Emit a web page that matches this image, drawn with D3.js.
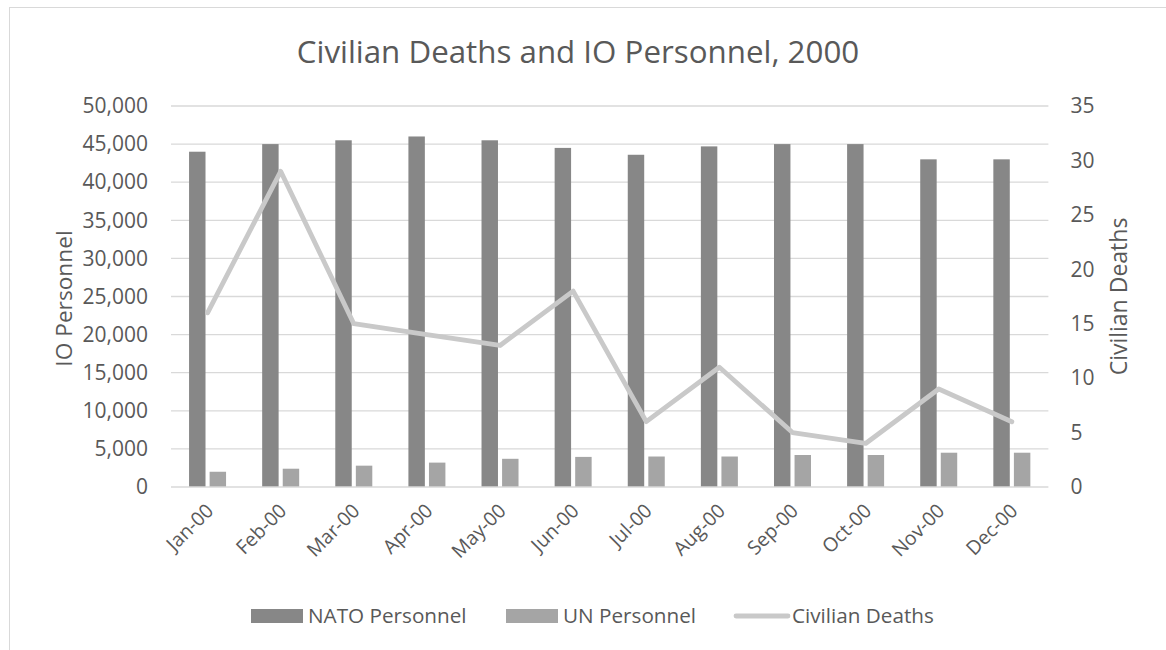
<!DOCTYPE html>
<html>
<head>
<meta charset="utf-8">
<script src="https://cdn.jsdelivr.net/npm/d3@7"></script>
<style>
  html, body { margin: 0; padding: 0; background: #fff; }
  svg { display: block; font-family: "Open Sans", Lato, sans-serif; }
</style>
</head>
<body>
<svg id="chart" width="1166" height="650"></svg>
<script>
const months = ["Jan-00","Feb-00","Mar-00","Apr-00","May-00","Jun-00","Jul-00","Aug-00","Sep-00","Oct-00","Nov-00","Dec-00"];
const natoPersonnel = [44000, 45000, 45500, 46000, 45500, 44500, 43600, 44700, 45000, 45000, 43000, 43000];
const unPersonnel = [2000, 2400, 2800, 3200, 3700, 3950, 4000, 4000, 4200, 4200, 4500, 4500];
const civilianDeaths = [16, 29, 15, 14, 13, 18, 6, 11, 5, 4, 9, 6];
const leftTicks = [0, 5000, 10000, 15000, 20000, 25000, 30000, 35000, 40000, 45000, 50000];
const rightTicks = [0, 5, 10, 15, 20, 25, 30, 35];
const seriesNames = ["NATO Personnel", "UN Personnel", "Civilian Deaths"];
const colors = { nato: "#878787", un: "#a5a5a5", deaths: "#c9c9c9" };
const textColor = "#595959";
const FONT = "'Open Sans', Lato, sans-serif";

const svg = d3.select("#chart");
const plot = { left: 171, right: 1048.4, top: 106, bottom: 487 };

// chart border
svg.append("rect").attr("x", 9.5).attr("y", 7.5).attr("width", 1166).attr("height", 660)
  .attr("fill", "none").attr("stroke", "#d9d9d9").attr("stroke-width", 1);

const x0 = d3.scaleBand().domain(months).range([plot.left, plot.right]).padding(0);
const x1 = d3.scaleBand().domain(["nato", "un"]).range([-18.5, 18.5]).paddingInner(0.2);
const yL = d3.scaleLinear().domain([0, 50000]).range([plot.bottom, plot.top]);
const yR = d3.scaleLinear().domain([0, 35]).range([plot.bottom, plot.top]);
const cx = m => x0(m) + x0.bandwidth() / 2;

// gridlines
svg.append("g").selectAll("line").data(leftTicks.filter(d => d > 0)).join("line")
  .attr("x1", plot.left).attr("x2", plot.right)
  .attr("y1", d => yL(d)).attr("y2", d => yL(d))
  .attr("stroke", "#d9d9d9").attr("stroke-width", 1.3);

// left axis labels
const fmt = d3.format(",");
const leftAxis = d3.axisLeft(yL).tickValues(leftTicks).tickFormat(fmt).tickSize(0).tickPadding(23);
const gl = svg.append("g").attr("transform", `translate(${plot.left},0)`).call(leftAxis);
gl.select(".domain").remove();
gl.selectAll("text").attr("fill", textColor).style("font-size", "21px").style("font-family", FONT);

const rightAxis = d3.axisRight(yR).tickValues(rightTicks).tickSize(0).tickPadding(22);
const gr = svg.append("g").attr("transform", `translate(${plot.right},0)`).call(rightAxis);
gr.select(".domain").remove();
gr.selectAll("text").attr("fill", textColor).style("font-size", "21px").style("font-family", FONT);

// bars
const groups = svg.append("g").selectAll("g").data(months).join("g")
  .attr("transform", d => `translate(${cx(d)},0)`);
groups.append("rect")
  .attr("x", x1("nato")).attr("width", x1.bandwidth())
  .attr("y", (d, i) => yL(natoPersonnel[i]))
  .attr("height", (d, i) => plot.bottom - yL(natoPersonnel[i]))
  .attr("fill", colors.nato);
groups.append("rect")
  .attr("x", x1("un")).attr("width", x1.bandwidth())
  .attr("y", (d, i) => yL(unPersonnel[i]))
  .attr("height", (d, i) => plot.bottom - yL(unPersonnel[i]))
  .attr("fill", colors.un);

// bottom axis line
svg.append("line").attr("x1", plot.left).attr("x2", plot.right)
  .attr("y1", plot.bottom).attr("y2", plot.bottom)
  .attr("stroke", "#d9d9d9").attr("stroke-width", 1.5);

// line series
const line = d3.line().x((d, i) => cx(months[i])).y(d => yR(d));
svg.append("path").datum(civilianDeaths).attr("d", line)
  .attr("fill", "none").attr("stroke", colors.deaths).attr("stroke-width", 4.8)
  .attr("stroke-linejoin", "round").attr("stroke-linecap", "round");

// x labels
const xAxis = d3.axisBottom(x0).tickSize(0).tickPadding(0);
const gx = svg.append("g").attr("transform", `translate(0,${plot.bottom})`).call(xAxis);
gx.select(".domain").remove();
gx.selectAll("text")
  .attr("fill", textColor).style("font-size", "19.5px").style("font-family", FONT)
  .attr("text-anchor", "end").attr("dy", null).attr("y", 0)
  .attr("transform", "translate(7,25) rotate(-45)");

// title
svg.append("text").attr("x", 578).attr("y", 63).attr("text-anchor", "middle")
  .attr("fill", textColor).style("font-size", "31.3px").text("Civilian Deaths and IO Personnel, 2000");

// axis titles
svg.append("text").attr("transform", `translate(72,${(plot.top + plot.bottom) / 2 + 2}) rotate(-90)`)
  .attr("text-anchor", "middle").attr("fill", textColor).style("font-size", "22.7px").text("IO Personnel");
svg.append("text").attr("transform", `translate(1127,${(plot.top + plot.bottom) / 2}) rotate(-90)`)
  .attr("text-anchor", "middle").attr("fill", textColor).style("font-size", "23px").text("Civilian Deaths");

// legend
const legendItems = [
  { name: seriesNames[0], type: "rect", color: colors.nato, x: 251 },
  { name: seriesNames[1], type: "rect", color: colors.un, x: 506 },
  { name: seriesNames[2], type: "line", color: colors.deaths, x: 734 }
];
const lg = svg.append("g").selectAll("g").data(legendItems).join("g")
  .attr("transform", d => `translate(${d.x},616)`);
lg.filter(d => d.type === "rect").append("rect")
  .attr("x", 0).attr("y", -7).attr("width", 52).attr("height", 14).attr("fill", d => d.color);
lg.filter(d => d.type === "line").append("line")
  .attr("x1", 2).attr("x2", 54).attr("y1", 0).attr("y2", 0)
  .attr("stroke", d => d.color).attr("stroke-width", 4.8).attr("stroke-linecap", "round");
lg.append("text").attr("x", d => d.type === "line" ? 58 : 57).attr("y", 0).attr("dy", "0.35em")
  .attr("fill", textColor).style("font-size", "20.7px").text(d => d.name);
</script>
</body>
</html>
